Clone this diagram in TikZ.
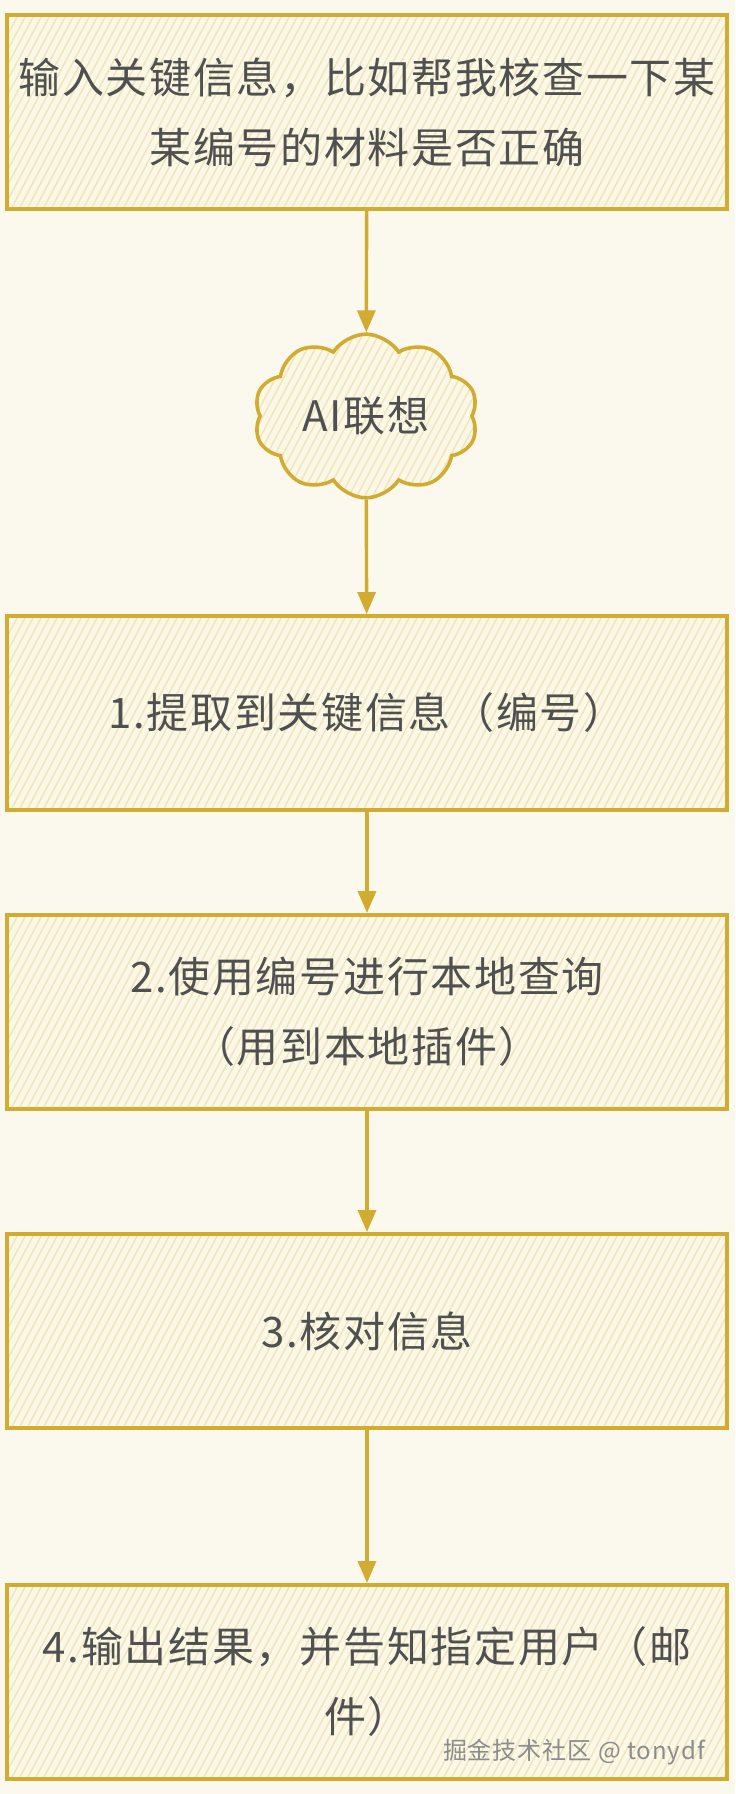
\documentclass[tikz,border=0pt]{standalone}
\usepackage{fontspec}
\newfontfamily\cjk{Noto Sans CJK SC}[LetterSpace=4]
\usetikzlibrary{shapes.symbols,arrows.meta}

\definecolor{paperColor}{RGB}{251,248,238}
\definecolor{boxColor}{RGB}{252,248,230}
\definecolor{hatchColor}{RGB}{240,228,192}
\definecolor{edgeColor}{RGB}{210,172,48}
\definecolor{textColor}{RGB}{80,80,80}

\tikzset{
  hatched/.style={path picture={
      \foreach \k in {-70,-66,...,370}
        \draw[hatchColor,line width=0.7pt]
          ([xshift=\k pt]path picture bounding box.south west) -- ++(62:240pt);
    }},
  stepbox/.style={draw=edgeColor, line width=2pt, fill=boxColor, hatched,
    minimum width=360pt, minimum height=97pt, align=center,
    text=textColor, font=\cjk\fontsize{21}{35}\selectfont},
  thought/.style={cloud, cloud puffs=10, cloud puff arc=115, aspect=1.45,
    draw=edgeColor, line width=1.8pt, fill=boxColor, hatched,
    minimum width=112pt, minimum height=80pt,
    text=textColor, font=\cjk\fontsize{21}{24}\selectfont},
  flow/.style={draw=edgeColor, line width=1.7pt, -{Triangle[length=11pt,width=9pt]}}
}

\begin{document}
\begin{tikzpicture}[x=0.5pt,y=-0.5pt]
  \fill[paperColor] (0,0) rectangle (735,1794);
  \useasboundingbox (0,0) rectangle (735,1794);
  % Steps
  \node[stepbox] (input) at (367,112) {输入关键信息，比如帮我核查一下某\\某编号的材料是否正确};
  \node[thought] (ai) at (366,416) {AI联想};
  \node[stepbox] (extract) at (367,713) {1.提取到关键信息（编号）};
  \node[stepbox] (query) at (367,1012) {2.使用编号进行本地查询\\（用到本地插件）};
  \node[stepbox] (check) at (367,1331) {3.核对信息};
  \node[stepbox] (output) at (367,1682) {4.输出结果，并告知指定用户（邮\\件）};
  % Arrows
  \draw[flow] (input) -- (ai);
  \draw[flow] (ai) -- (extract);
  \draw[flow] (extract) -- (query);
  \draw[flow] (query) -- (check);
  \draw[flow] (check) -- (output);
  % Watermark
  \node[anchor=east, text=gray!90, font=\cjk\fontsize{12}{14}\selectfont]
    (mark) at (712,1752) {掘金技术社区 @ tonydf};
\end{tikzpicture}
\end{document}
